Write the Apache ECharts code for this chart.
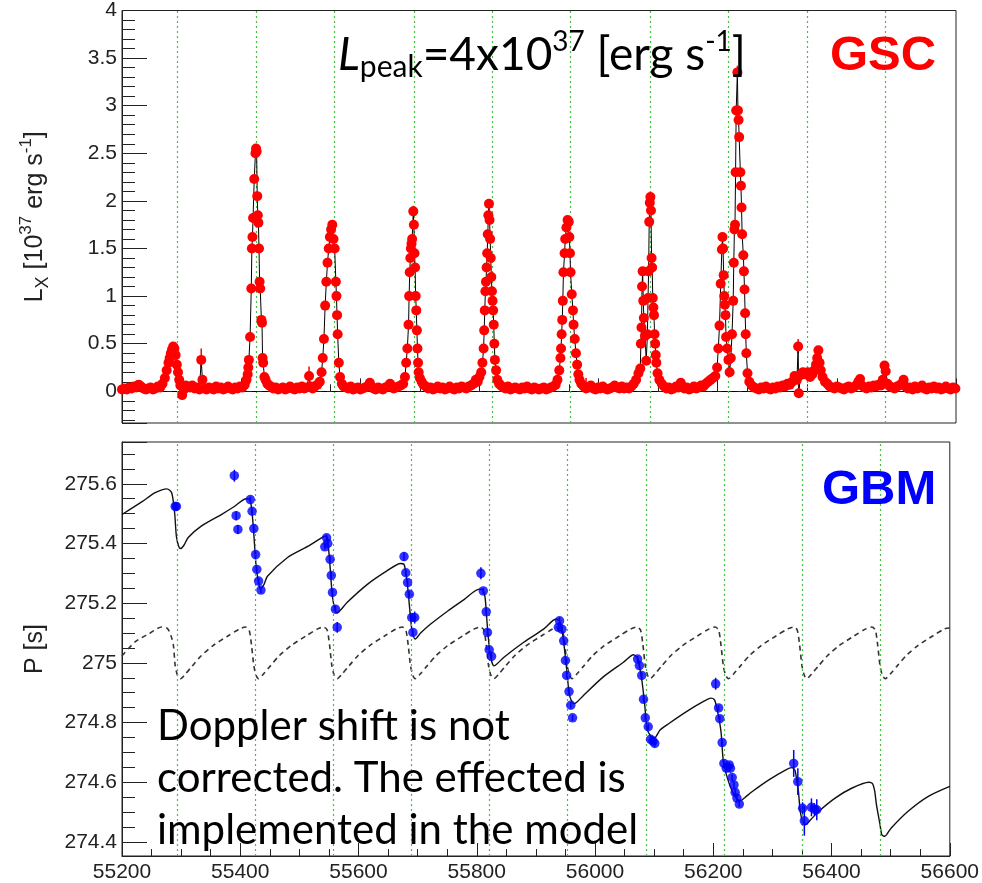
<!DOCTYPE html>
<html><head><meta charset="utf-8">
<script src="https://cdn.jsdelivr.net/npm/echarts@6/dist/echarts.min.js"></script>
<style>html,body{margin:0;padding:0;background:#fff}#c{width:982px;height:883px}</style>
</head><body><div id="c"></div>
<script>
// MAXI/GSC luminosity [MJD, Lx (1e37 erg/s)]
const gscPoints = [
[55200,0.02],[55204,0.03],[55208,0.02],[55212,0.04],[55216,0.03],[55220,0.05],[55224,0.04],[55228,0.07],[55232,0.05],[55236,0.03],[55240,0.02],[55244,0.03],[55248,0.04],[55252,0.02],[55256,0.03],[55260,0.05],[55264,0.04],[55268,0.08],
[55272,0.14],[55275,0.22],[55278,0.3],[55280,0.35],[55282,0.4],[55284,0.44],[55286,0.47],[55288,0.45],[55290,0.38],[55292,0.28],[55294,0.2],[55296,0.12],[55298,0.06],[55301,-0.04],[55304,0.02],[55307,0.06],[55310,0.05],[55314,0.04],[55318,0.06],[55322,0.03],[55326,0.04],[55330,0.02],[55333,0.33],[55335,0.12],[55338,0.03],
[55342,0.02],[55346,0.04],[55350,0.03],[55354,0.02],[55358,0.05],[55362,0.03],[55366,0.04],[55370,0.02],[55374,0.03],[55378,0.05],[55382,0.03],[55386,0.02],[55390,0.04],[55394,0.03],[55398,0.05],[55402,0.04],[55406,0.07],
[55409,0.12],[55411,0.18],[55412,0.25],[55413,0.33],[55415,0.57],[55417,1.08],[55418,1.5],[55419,1.62],[55420,1.82],[55422,2.23],[55424,2.5],[55425,2.55],[55426,2.52],[55427,2.05],[55428,1.85],[55429,1.77],[55430,1.5],[55431,1.15],[55432,1.08],[55434,0.75],[55435,0.72],[55436,0.35],[55437,0.3],[55439,0.15],[55441,0.12],[55444,0.08],[55447,0.06],
[55450,0.05],[55454,0.03],[55458,0.04],[55462,0.02],[55466,0.03],[55470,0.04],[55474,0.02],[55478,0.03],[55482,0.05],[55486,0.03],[55490,0.02],[55494,0.04],[55498,0.03],[55502,0.05],[55506,0.03],[55510,0.04],[55514,0.16],[55517,0.05],[55520,0.03],[55524,0.05],[55528,0.07],
[55532,0.1],[55535,0.2],[55537,0.35],[55539,0.55],[55541,0.9],[55543,1.15],[55545,1.35],[55547,1.5],[55549,1.62],[55551,1.7],[55553,1.75],[55555,1.6],[55557,1.5],[55559,1.15],[55560,1.0],[55561,0.8],[55562,0.6],[55564,0.3],[55566,0.15],[55569,0.08],
[55572,0.05],[55576,0.04],[55580,0.03],[55584,0.05],[55588,0.02],[55592,0.03],[55596,0.04],[55600,0.02],[55604,0.03],[55608,0.04],[55612,0.05],[55616,0.09],[55619,0.05],[55622,0.03],[55626,0.02],[55630,0.04],[55634,0.03],[55638,0.02],[55642,0.04],[55646,0.05],[55650,0.08],[55653,0.05],[55656,0.03],[55660,0.04],[55664,0.05],[55668,0.06],[55672,0.08],
[55675,0.15],[55677,0.3],[55679,0.45],[55681,0.7],[55682,1.0],[55683,1.25],[55684,1.4],[55685,1.5],[55686,1.55],[55687,1.6],[55689,1.89],[55690,1.75],[55691,1.45],[55692,1.3],[55693,1.0],[55694,0.85],[55695,0.64],[55696,0.45],[55697,0.3],[55698,0.2],[55700,0.14],[55703,0.1],[55706,0.07],
[55710,0.05],[55714,0.03],[55718,0.04],[55722,0.02],[55726,0.03],[55730,0.05],[55734,0.03],[55738,0.04],[55742,0.02],[55746,0.03],[55750,0.05],[55754,0.03],[55758,0.02],[55762,0.04],[55766,0.03],[55770,0.05],[55774,0.04],[55778,0.03],[55782,0.05],[55786,0.06],[55790,0.08],[55794,0.12],[55797,0.1],
[55800,0.15],[55803,0.2],[55805,0.3],[55807,0.45],[55808,0.64],[55809,0.85],[55810,1.05],[55811,1.15],[55812,1.3],[55813,1.45],[55814,1.65],[55815,1.85],[55816,1.97],[55817,1.8],[55818,1.6],[55819,1.4],[55820,1.2],[55821,1.05],[55822,0.95],[55823,0.85],[55824,0.7],[55825,0.5],[55826,0.33],[55828,0.22],[55830,0.12],[55833,0.08],[55836,0.06],
[55840,0.04],[55844,0.03],[55848,0.05],[55852,0.02],[55856,0.03],[55860,0.04],[55864,0.03],[55868,0.02],[55872,0.04],[55876,0.03],[55880,0.05],[55884,0.03],[55888,0.02],[55892,0.04],[55896,0.03],[55900,0.02],[55904,0.03],[55908,0.04],[55912,0.02],[55916,0.03],[55920,0.04],[55924,0.05],[55928,0.07],
[55931,0.12],[55934,0.22],[55936,0.35],[55937,0.45],[55938,0.6],[55939,0.75],[55940,0.95],[55941,1.25],[55943,1.45],[55944,1.6],[55946,1.72],[55948,1.8],[55950,1.78],[55951,1.62],[55952,1.45],[55953,1.25],[55955,1.02],[55957,0.85],[55958,0.7],[55960,0.55],[55962,0.4],[55964,0.28],[55966,0.18],[55968,0.12],[55971,0.08],
[55975,0.05],[55979,0.03],[55983,0.04],[55987,0.06],[55991,0.03],[55995,0.02],[55999,0.04],[56003,0.03],[56007,0.05],[56011,0.03],[56015,0.02],[56019,0.03],[56023,0.04],[56027,0.06],[56031,0.04],[56035,0.03],[56039,0.05],[56043,0.03],[56047,0.04],[56051,0.03],[56055,0.05],[56059,0.08],
[56063,0.12],[56067,0.19],[56070,0.24],[56071,0.5],[56072,0.67],[56073,1.1],[56074,1.26],[56075,0.95],[56076,0.77],[56078,0.58],[56080,0.32],[56082,0.6],[56083,0.98],[56084,1.26],[56085,1.78],[56086,1.98],[56087,2.04],[56088,1.9],[56089,1.4],[56090,1.3],[56091,0.98],[56092,0.88],[56093,0.8],[56094,0.6],[56095,0.5],[56096,0.38],[56097,0.3],[56099,0.19],[56102,0.12],[56106,0.08],
[56110,0.05],[56114,0.03],[56118,0.04],[56122,0.02],[56126,0.03],[56130,0.05],[56134,0.04],[56138,0.09],[56141,0.05],[56144,0.03],[56148,0.04],[56152,0.02],[56156,0.03],[56160,0.05],[56164,0.03],[56168,0.04],[56172,0.06],[56176,0.05],[56180,0.08],[56184,0.1],[56188,0.12],[56192,0.14],[56196,0.16],
[56199,0.25],[56201,0.45],[56203,0.69],[56205,1.13],[56207,1.49],[56208,1.62],[56209,1.5],[56210,1.22],[56211,1.0],[56212,0.91],[56213,0.8],[56214,0.57],[56216,0.45],[56218,0.33],[56220,0.2],[56222,0.35],[56224,0.6],[56226,0.95],[56227,1.35],[56228,1.7],[56229,1.75],[56230,2.3],[56231,2.95],[56233,3.35],[56234,2.95],[56235,2.85],[56236,2.67],[56238,2.3],[56239,2.16],[56240,1.93],[56241,1.65],[56243,1.43],[56244,1.26],[56245,1.07],[56246,0.82],[56247,0.6],[56248,0.4],[56250,0.19],[56253,0.1],[56257,0.06],
[56261,0.04],[56265,0.03],[56269,0.02],[56273,0.04],[56277,0.03],[56281,0.05],[56285,0.03],[56289,0.02],[56293,0.04],[56297,0.03],[56301,0.05],[56305,0.04],[56309,0.06],[56313,0.05],[56317,0.08],[56321,0.07],[56325,0.1],[56329,0.16],[56333,0.12],[56335,0.47],[56336,-0.02],[56339,0.17],[56343,0.2],[56347,0.18],[56351,0.2],[56355,0.15],[56359,0.18],[56362,0.22],[56365,0.28],[56367,0.35],[56369,0.43],[56371,0.3],[56373,0.22],[56376,0.15],[56380,0.1],[56384,0.08],
[56388,0.05],[56392,0.04],[56396,0.03],[56400,0.05],[56404,0.04],[56408,0.03],[56412,0.02],[56416,0.04],[56420,0.05],[56424,0.03],[56428,0.04],[56432,0.06],[56436,0.1],[56439,0.13],[56442,0.06],[56446,0.04],[56450,0.03],[56454,0.05],[56458,0.04],[56462,0.06],[56466,0.05],[56470,0.07],[56474,0.06],[56477,0.12],[56480,0.27],[56482,0.21],[56485,0.08],[56489,0.05],
[56493,0.04],[56497,0.03],[56501,0.05],[56505,0.06],[56509,0.08],[56512,0.12],[56515,0.05],[56519,0.03],[56523,0.04],[56527,0.02],[56531,0.05],[56535,0.03],[56539,0.04],[56543,0.06],[56547,0.03],[56551,0.02],[56555,0.04],[56559,0.03],[56563,0.05],[56567,0.03],[56571,0.04],[56575,0.02],[56579,0.03],[56583,0.05],[56587,0.03],[56591,0.02],[56595,0.04],[56599,0.03]
];
// visible GSC error bars [MJD, low, high]
const gscErrorBars = [[55333,0.25,0.45],[55514,0.1,0.26],[56335,0.4,0.55],[56233,3.3,3.42],[55689,1.85,1.95],[56087,2.0,2.1],[55979,0.0,0.14]];
// Fermi/GBM pulse period [MJD, P (s), error]
const gbmPoints = [
[55290,275.524,0.012],[55292,275.524,0.012],
[55390,275.627,0.02],[55393,275.493,0.015],[55396,275.447,0.015],
[55417,275.547,0.01],[55420,275.508,0.01],[55423,275.45,0.01],[55426,275.363,0.01],[55428,275.313,0.01],[55431,275.274,0.01],[55435,275.244,0.01],
[55543,275.389,0.01],[55546,275.419,0.01],[55548,275.40,0.01],[55552,275.347,0.01],[55554,275.293,0.01],[55556,275.236,0.01],[55561,275.18,0.012],[55564,275.119,0.018],
[55677,275.356,0.015],[55680,275.302,0.01],[55683,275.269,0.01],[55686,275.23,0.01],[55690,275.152,0.012],[55695,275.152,0.02],[55692,275.102,0.01],
[55807,275.30,0.02],[55811,275.241,0.01],[55816,275.171,0.01],[55818,275.102,0.01],[55821,275.044,0.01],[55825,275.022,0.01],
[55938,275.119,0.01],[55940,275.141,0.012],[55944,275.113,0.01],[55947,275.074,0.01],[55950,275.008,0.01],[55952,274.958,0.01],[55956,274.904,0.01],[55959,274.858,0.01],[55962,274.816,0.01],
[56072,275.013,0.01],[56075,274.991,0.01],[56079,274.958,0.01],[56082,274.878,0.01],[56085,274.816,0.01],[56090,274.786,0.01],[56094,274.744,0.01],[56098,274.738,0.01],[56101,274.73,0.012],
[56204,274.93,0.02],[56209,274.849,0.01],[56211,274.813,0.01],[56215,274.733,0.01],[56218,274.663,0.015],[56222,274.647,0.01],[56227,274.658,0.01],[56229,274.647,0.01],[56232,274.616,0.01],[56235,274.591,0.01],[56237,274.566,0.01],[56240,274.547,0.01],[56244,274.527,0.01],
[56336,274.663,0.045],[56343,274.602,0.045],[56351,274.513,0.02],[56354,274.471,0.05],[56366,274.516,0.03],[56371,274.51,0.02],[56375,274.508,0.035]
];
// model, Doppler shift included (solid)
const modelSolid = [
[55200,275.497],[55234,275.54],[55256,275.57],[55276,275.583],[55284,275.57],[55289,275.503],[55292,275.424],[55296,275.39],[55299,275.383],[55305,275.395],[55312,275.42],[55334,275.458],[55368,275.497],[55390,275.524],[55410,275.55],[55416,275.548],[55419,275.52],[55422,275.458],[55424,275.4],[55427,275.32],[55431,275.27],[55434,275.247],
[55440,275.262],[55446,275.29],[55480,275.353],[55514,275.39],[55541,275.423],[55546,275.425],[55549,275.39],[55552,275.32],[55556,275.22],[55561,275.174],[55564,275.167],
[55570,275.178],[55581,275.203],[55615,275.263],[55648,275.308],[55671,275.333],[55677,275.33],[55681,275.29],[55684,275.237],[55688,275.15],[55691,275.103],[55696,275.08],
[55705,275.1],[55722,275.13],[55751,275.174],[55779,275.213],[55804,275.247],[55810,275.245],[55814,275.22],[55818,275.12],[55823,275.024],[55829,274.99],
[55835,274.998],[55846,275.019],[55880,275.07],[55913,275.113],[55934,275.147],[55940,275.14],[55944,275.11],[55947,275.07],[55952,274.98],[55957,274.89],[55964,274.863],
[55970,274.87],[55980,274.89],[56014,274.953],[56048,275.002],[56065,275.027],[56072,275.015],[56076,274.98],[56080,274.93],[56084,274.86],[56088,274.78],[56094,274.755],[56100,274.747],
[56110,274.775],[56125,274.797],[56154,274.836],[56182,274.869],[56196,274.882],[56202,274.876],[56207,274.84],[56213,274.77],[56217,274.67],[56224,274.613],[56232,274.57],[56241,274.541],[56246,274.538],
[56254,274.55],[56266,274.569],[56294,274.608],[56322,274.641],[56333,274.649],[56338,274.64],[56341,274.61],[56344,274.57],[56347,274.503],[56351,274.47],[56356,274.458],
[56365,274.475],[56378,274.502],[56406,274.547],[56434,274.58],[56463,274.6],[56469,274.596],[56473,274.57],[56476,274.524],[56482,274.458],[56485,274.424],[56490,274.419],
[56495,274.43],[56501,274.447],[56529,274.502],[56563,274.552],[56600,274.586]
];
// model, Doppler shift not included (dashed)
const modelDashed = [
[55200,275.024],[55222,275.07],[55245,275.097],[55267,275.12],[55277,275.115],[55283,275.09],[55287,275.058],[55290,274.99],[55294,274.958],[55299,274.947],
[55307,274.962],[55319,274.99],[55334,275.024],[55354,275.058],[55379,275.09],[55399,275.114],[55409,275.12],[55415,275.11],[55419,275.06],[55423,274.99],[55427,274.958],[55431,274.947],
[55439,274.962],[55451,274.99],[55466,275.024],[55486,275.058],[55511,275.09],[55531,275.114],[55541,275.12],[55547,275.11],[55551,275.06],[55555,274.99],[55559,274.958],[55564,274.947],
[55572,274.962],[55584,274.99],[55599,275.024],[55619,275.058],[55644,275.09],[55664,275.114],[55674,275.12],[55680,275.11],[55684,275.06],[55688,274.99],[55692,274.958],[55696,274.947],
[55704,274.962],[55716,274.99],[55731,275.024],[55751,275.058],[55776,275.09],[55796,275.114],[55806,275.12],[55812,275.11],[55816,275.06],[55820,274.99],[55824,274.958],[55829,274.947],
[55837,274.962],[55849,274.99],[55864,275.024],[55884,275.058],[55909,275.09],[55929,275.114],[55939,275.12],[55945,275.11],[55949,275.06],[55953,274.99],[55957,274.958],[55961,274.947],
[55969,274.962],[55981,274.99],[55996,275.024],[56016,275.058],[56041,275.09],[56061,275.114],[56071,275.12],[56077,275.11],[56081,275.06],[56085,274.99],[56089,274.958],[56093,274.947],
[56101,274.962],[56113,274.99],[56128,275.024],[56148,275.058],[56173,275.09],[56193,275.114],[56203,275.12],[56209,275.11],[56213,275.06],[56217,274.99],[56221,274.958],[56226,274.947],
[56234,274.962],[56246,274.99],[56261,275.024],[56281,275.058],[56306,275.09],[56326,275.114],[56336,275.12],[56342,275.11],[56346,275.06],[56350,274.99],[56354,274.958],[56358,274.947],
[56366,274.962],[56378,274.99],[56393,275.024],[56413,275.058],[56438,275.09],[56458,275.114],[56468,275.12],[56474,275.11],[56478,275.06],[56482,274.99],[56486,274.958],[56491,274.947],
[56499,274.962],[56511,274.99],[56526,275.024],[56546,275.058],[56571,275.09],[56591,275.114],[56600,275.117]
];
// periastron epochs (green dotted lines)
const orbitEpochs = [55293,55425,55557,55690,55821,55953,56086,56218,56350,56482];
const xRange = [55200, 56600];
const lxRange = [-0.333, 4];
const pRange = [274.353, 275.74];

const AX = '#222';
const FONT = '"Liberation Sans", Arial, Helvetica, sans-serif';
const chart = echarts.init(document.getElementById('c'), null, {renderer:'canvas'});

function errorBarSeries(data, xi, color, width){
  return {
    type:'custom', xAxisIndex:xi, yAxisIndex:xi, z:4, silent:true,
    encode:{x:0, y:[1,2]},
    data:data,
    renderItem:function(params, api){
      const p1 = api.coord([api.value(0), api.value(1)]);
      const p2 = api.coord([api.value(0), api.value(2)]);
      return {type:'line', shape:{x1:p1[0], y1:p1[1], x2:p2[0], y2:p2[1]}, style:{stroke:color, lineWidth:width}};
    }
  };
}

function xAxisCfg(gi, labels){
  return {
    gridIndex:gi, type:'value', min:xRange[0], max:xRange[1], interval:200,
    axisLine:{show:true, lineStyle:{color:AX, width:1}},
    axisTick:{show:true, inside:true, length:13, lineStyle:{color:AX, width:1}},
    minorTick:{show:true, splitNumber:4, length:7, lineStyle:{color:AX, width:1}},
    splitLine:{show:false}, minorSplitLine:{show:false},
    axisLabel:{show:labels, color:AX, fontFamily:FONT, fontSize:21, margin:6, showMinLabel:true, showMaxLabel:true,
      formatter:function(v){ return String(v); }}
  };
}
const nameRich = {
  m:{fontFamily:FONT, fontSize:25, color:AX, lineHeight:34},
  sub:{fontFamily:FONT, fontSize:18, color:AX, verticalAlign:'bottom', lineHeight:26},
  sup:{fontFamily:FONT, fontSize:17, color:AX, verticalAlign:'top', lineHeight:26}
};
function yAxisCfg(gi, range, split, minorSplit, name){
  return {
    gridIndex:gi, type:'value', min:range[0], max:range[1], splitNumber:split,
    axisLine:{show:true, lineStyle:{color:AX, width:1}},
    axisTick:{show:true, inside:true, length:25, lineStyle:{color:AX, width:1}},
    minorTick:{show:true, splitNumber:minorSplit, length:13, lineStyle:{color:AX, width:1}},
    splitLine:{show:false}, minorSplitLine:{show:false},
    axisLabel:{color:AX, fontFamily:FONT, fontSize:21, margin:5, showMinLabel:false, showMaxLabel: gi===0},
    name:name, nameLocation:'middle', nameRotate:90, nameGap:70,
    nameTextStyle:{color:AX, fontFamily:FONT, fontSize:25, rich:nameRich}
  };
}

const option = {
  animation:false,
  backgroundColor:'#ffffff',
  grid:[
    {left:122, top:8, width:834, height:415, show:true, borderColor:AX, borderWidth:1, backgroundColor:'transparent'},
    {left:122, top:442, width:834, height:415, show:true, borderColor:AX, borderWidth:1, backgroundColor:'transparent'}
  ],
  xAxis:[xAxisCfg(0,false), xAxisCfg(1,true)],
  yAxis:[
    yAxisCfg(0, lxRange, 8, 5, '{m|L}{sub|X}{m| [10}{sup|37}{m| erg s}{sup|-1}{m|]}'),
    yAxisCfg(1, pRange, 7, 4, '{m|P [s]}')
  ],
  series:[
    {type:'line', xAxisIndex:0, yAxisIndex:0, data:[], z:1, silent:true,
      markLine:{silent:true, symbol:'none', animation:false, label:{show:false},
        data:[
          ...orbitEpochs.map(v=>({xAxis:v, lineStyle:{color:'#44c044', type:[2,3], width:1.2}})),
          {yAxis:0, lineStyle:{color:'#000', type:[5,5], width:1}}
        ]}},
    {type:'line', xAxisIndex:1, yAxisIndex:1, data:[], z:1, silent:true,
      markLine:{silent:true, symbol:'none', animation:false, label:{show:false},
        data: orbitEpochs.map(v=>({xAxis:v, lineStyle:{color:'#44c044', type:[2,3], width:1.2}}))}},
    errorBarSeries(gscErrorBars, 0, '#ff0000', 1.5),
    {type:'line', name:'GSC', xAxisIndex:0, yAxisIndex:0, data:gscPoints, z:5,
      symbol:'circle', symbolSize:10, showSymbol:true, showAllSymbol:true,
      itemStyle:{color:'#ff0000', borderWidth:0},
      lineStyle:{color:'#000', width:1}},
    {type:'line', name:'model dashed', xAxisIndex:1, yAxisIndex:1, data:modelDashed, z:3,
      symbol:'none', smooth:0.25, lineStyle:{color:'#333', width:1.6, type:[5,4]}},
    {type:'line', name:'model', xAxisIndex:1, yAxisIndex:1, data:modelSolid, z:3,
      symbol:'none', smooth:0.25, lineStyle:{color:'#111', width:1.4}},
    errorBarSeries(gbmPoints.map(p=>[p[0], p[1]-p[2], p[1]+p[2]]), 1, '#0000ff', 1.5),
    {type:'scatter', name:'GBM', xAxisIndex:1, yAxisIndex:1, data:gbmPoints.map(p=>[p[0],p[1]]), z:5,
      symbol:'circle', symbolSize:9.5, itemStyle:{color:'#0000ff'}}
  ],
  graphic:[
    {type:'text', left:830, top:32, z:10, style:{text:'GSC', fill:'#ff0000', font:'bold 49px "Liberation Sans", Arial, sans-serif'}},
    {type:'text', left:822, top:466, z:10, style:{text:'GBM', fill:'#0000ff', font:'bold 49px "Liberation Sans", Arial, sans-serif'}},
    {type:'text', left:338, top:28, z:10, style:{
      text:'{it|L}{sub|peak}{n|=4x10}{sup|37}{n| [erg s}{sup|-1}{n|]}',
      rich:{
        it:{fontFamily:'Lato', fontStyle:'italic', fontSize:46, fill:'#000', lineHeight:54},
        n:{fontFamily:'Lato', fontSize:46, fill:'#000', lineHeight:54},
        sub:{fontFamily:'Lato', fontSize:30, fill:'#000', verticalAlign:'bottom', lineHeight:38},
        sup:{fontFamily:'Lato', fontSize:28, fill:'#000', verticalAlign:'top', lineHeight:36}
      }}},
    {type:'text', left:157, top:700, z:10, style:{
      text:'Doppler shift is not\ncorrected. The effected is\nimplemented in the model',
      font:'42px Lato', fill:'#000', lineHeight:52}}
  ]
};
chart.setOption(option);
</script>
</body></html>
